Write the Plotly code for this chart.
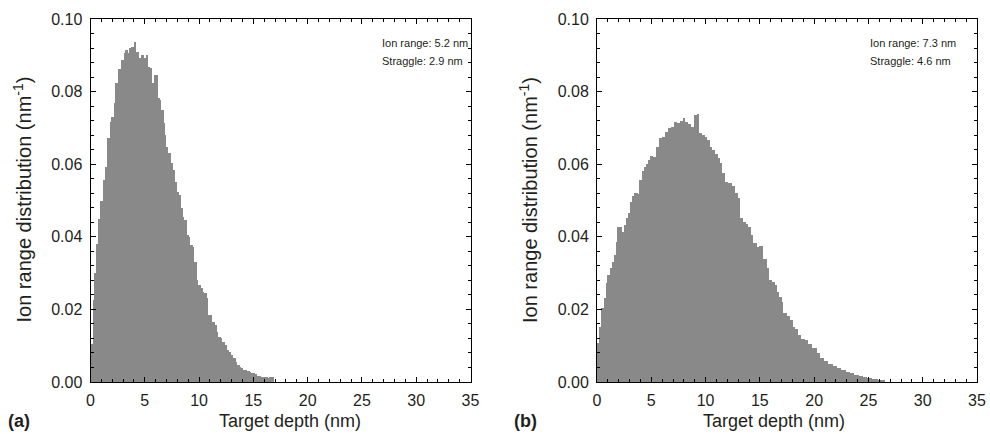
import numpy as np
import plotly.graph_objects as go

# ---- data: panel (a) ----
depth_a = [0.0, 0.20, 0.32, 0.51, 0.69, 0.87, 1.06, 1.37, 1.55, 1.73, 1.92, 2.10, 2.29, 2.47, 2.72, 2.84,
           3.02, 3.21, 3.39, 3.58, 3.76, 3.94, 4.13, 4.41, 4.65, 4.84, 5.02, 5.27, 5.45, 5.63, 5.82,
           6.13, 6.31, 6.49, 6.68, 6.80, 6.92, 7.11, 7.35, 7.54, 7.72, 7.91, 8.09, 8.27, 8.46, 8.61,
           8.80, 8.98, 9.16, 9.35, 9.53, 9.72, 9.90, 10.09, 10.27, 10.45, 10.64, 10.82, 11.19, 11.38,
           11.56, 11.74, 11.93, 12.11, 12.30, 12.48, 12.67, 12.85, 13.12, 13.31, 13.49, 13.68, 13.86,
           14.04, 14.41, 14.60, 14.78, 15.15, 15.33, 15.70, 16.26, 16.44, 16.87]
dist_a = [0.0105, 0.0226, 0.030, 0.038, 0.045, 0.050, 0.0556, 0.0592, 0.0672, 0.0716, 0.073, 0.0768,
          0.0824, 0.0862, 0.0854, 0.0887, 0.0906, 0.0915, 0.0906, 0.092, 0.0923, 0.0937, 0.091, 0.0893,
          0.090, 0.0893, 0.090, 0.0868, 0.0865, 0.0824, 0.0846, 0.0782, 0.0777, 0.075, 0.0713, 0.068,
          0.0647, 0.063, 0.0603, 0.0584, 0.0551, 0.0523, 0.0515, 0.0479, 0.0455, 0.0446, 0.0405, 0.040,
          0.0377, 0.0372, 0.033, 0.0281, 0.0267, 0.0259, 0.0248, 0.0245, 0.0231, 0.0185, 0.0165, 0.0157,
          0.0138, 0.0124, 0.0121, 0.011, 0.0102, 0.0088, 0.0083, 0.0075, 0.0066, 0.0055, 0.0047, 0.0041,
          0.0039, 0.0033, 0.003, 0.0028, 0.0025, 0.0022, 0.0017, 0.0014, 0.0011, 0.0014]

# ---- data: panel (b) ----
depth_b = [0.0, 0.15, 0.40, 0.64, 0.83, 0.95, 1.20, 1.38, 1.57, 1.75, 1.87, 2.30, 2.49, 2.67, 2.86, 3.04,
           3.22, 3.41, 3.78, 3.96, 4.14, 4.33, 4.51, 4.70, 4.88, 5.13, 5.43, 5.74, 5.99, 6.29, 6.54,
           6.79, 7.09, 7.34, 7.64, 7.89, 8.14, 8.38, 8.63, 8.94, 9.18, 9.43, 9.67, 9.98, 10.16, 10.41,
           10.62, 10.87, 11.11, 11.33, 11.54, 11.79, 12.04, 12.40, 12.71, 12.96, 13.20, 13.48, 13.69,
           13.94, 14.18, 14.40, 14.71, 14.92, 15.32, 15.63, 15.84, 16.09, 16.39, 16.55, 16.79, 17.01,
           17.16, 17.47, 17.78, 18.02, 18.24, 18.54, 18.76, 19.16, 19.47, 19.77, 20.23, 20.54, 20.9,
           21.3, 21.7, 22.1, 22.5, 22.9, 23.3, 23.7, 24.1, 24.5, 24.9, 25.3, 25.9, 26.5]
dist_b = [0.0107, 0.0152, 0.0204, 0.0231, 0.0273, 0.0295, 0.0314, 0.0331, 0.035, 0.0386, 0.0427, 0.0413,
          0.0432, 0.0451, 0.0466, 0.0496, 0.0512, 0.052, 0.0518, 0.0556, 0.0581, 0.0592, 0.060, 0.0612,
          0.0623, 0.062, 0.0647, 0.0672, 0.0675, 0.0689, 0.070, 0.0702, 0.0716, 0.0713, 0.0719, 0.0727,
          0.0716, 0.0711, 0.0702, 0.0736, 0.0738, 0.0686, 0.068, 0.0675, 0.0667, 0.0647, 0.0639, 0.0628,
          0.0617, 0.0603, 0.0576, 0.0551, 0.0548, 0.054, 0.052, 0.0507, 0.0452, 0.0441, 0.0435, 0.0427,
          0.0405, 0.0383, 0.0372, 0.0375, 0.0339, 0.0314, 0.0281, 0.0275, 0.0267, 0.0248, 0.0234, 0.022,
          0.019, 0.0182, 0.0171, 0.0152, 0.0146, 0.013, 0.0118, 0.0116, 0.0105, 0.0094, 0.008, 0.0066,
          0.0058, 0.005, 0.0044, 0.0038, 0.0033, 0.0028, 0.0024, 0.002, 0.0017, 0.0013, 0.0011, 0.0008,
          0.0005]

x_ticks = [0, 5, 10, 15, 20, 25, 30, 35]
y_ticks = [0.00, 0.02, 0.04, 0.06, 0.08, 0.10]
y_tick_labels = ["0.00", "0.02", "0.04", "0.06", "0.08", "0.10"]
note_range = ["Ion range: 5.2 nm", "Ion range: 7.3 nm"]
note_straggle = ["Straggle: 2.9 nm", "Straggle: 4.6 nm"]
panel_labels = ["(a)", "(b)"]

BAR = "#898989"
TXT = "#231f20"
FONT = "Liberation Sans, Arial, sans-serif"

fig = go.Figure()


def add_hist(depth, dist, xa, ya):
    edges = np.array(depth, dtype=float)
    widths = np.diff(edges)
    fig.add_trace(go.Bar(x=edges[:-1], y=dist, width=widths, offset=0,
                         marker=dict(color=BAR, line=dict(width=0)),
                         xaxis=xa, yaxis=ya, showlegend=False, hoverinfo="skip"))


add_hist(depth_a, dist_a, "x", "y")
add_hist(depth_b, dist_b, "x2", "y2")

W, H = 990, 434
px_x = [(90.5, 470.5), (597.0, 977.0)]
doms_x = [[a / W, b / W] for a, b in px_x]
dom_y = [(H - 382) / H, (H - 19) / H]

axis_common = dict(showline=True, linecolor="black", linewidth=1, mirror="allticks",
                   ticks="inside", ticklen=5, tickwidth=1, tickcolor="black",
                   showgrid=False, zeroline=False, automargin=False, ticklabelstandoff=4,
                   tickfont=dict(family=FONT, size=16, color=TXT))

lay = dict(width=W, height=H, margin=dict(l=0, r=0, t=0, b=0, autoexpand=False),
           plot_bgcolor="white", paper_bgcolor="white", bargap=0,
           font=dict(family=FONT, color=TXT), showlegend=False)

for i in range(2):
    sx = "" if i == 0 else "2"
    lay["xaxis" + sx] = dict(axis_common, domain=doms_x[i], range=[0, 35],
                            tickvals=x_ticks, ticktext=[str(v) for v in x_ticks],
                            minor=dict(dtick=1, tick0=0, ticks="inside", ticklen=3, tickcolor="black"),
                            anchor="y" + sx)
    lay["yaxis" + sx] = dict(axis_common, domain=dom_y, range=[0, 0.10],
                            tickvals=y_ticks, ticktext=y_tick_labels,
                            minor=dict(dtick=0.004, tick0=0, ticks="inside", ticklen=3, tickcolor="black"),
                            anchor="x" + sx)

fig.update_layout(**lay)

title_cx = [290, 774]
note_x = [380, 868]
ann = []
for i in range(2):
    x0, x1 = px_x[i]
    ann.append(dict(text="Target depth (nm)", xref="paper", yref="paper",
                    x=title_cx[i] / W, y=(H - 421) / H, xanchor="center", yanchor="middle",
                    showarrow=False, font=dict(family=FONT, size=18, color=TXT)))
    ann.append(dict(text="Ion range distribution (nm<sup>-1</sup>)", xref="paper", yref="paper",
                    x=(x0 - 69) / W, y=(H - 200) / H, xanchor="center", yanchor="middle",
                    textangle=-90, showarrow=False, font=dict(family=FONT, size=20, color=TXT)))
    ann.append(dict(text="<b>" + panel_labels[i] + "</b>", xref="paper", yref="paper",
                    x=(x0 - 85) / W, y=(H - 421) / H, xanchor="left", yanchor="middle",
                    showarrow=False, font=dict(family=FONT, size=18, color=TXT)))
    ann.append(dict(text=note_range[i], xref="paper", yref="paper",
                    x=note_x[i] / W, y=(H - 43) / H, xanchor="left", yanchor="middle",
                    showarrow=False, font=dict(family=FONT, size=11, color=TXT)))
    ann.append(dict(text=note_straggle[i], xref="paper", yref="paper",
                    x=note_x[i] / W, y=(H - 61) / H, xanchor="left", yanchor="middle",
                    showarrow=False, font=dict(family=FONT, size=11, color=TXT)))

fig.update_layout(annotations=ann)
fig.write_html("out.html", config={"displayModeBar": False},
               post_script="document.body.style.margin='0';document.body.style.padding='0';")
